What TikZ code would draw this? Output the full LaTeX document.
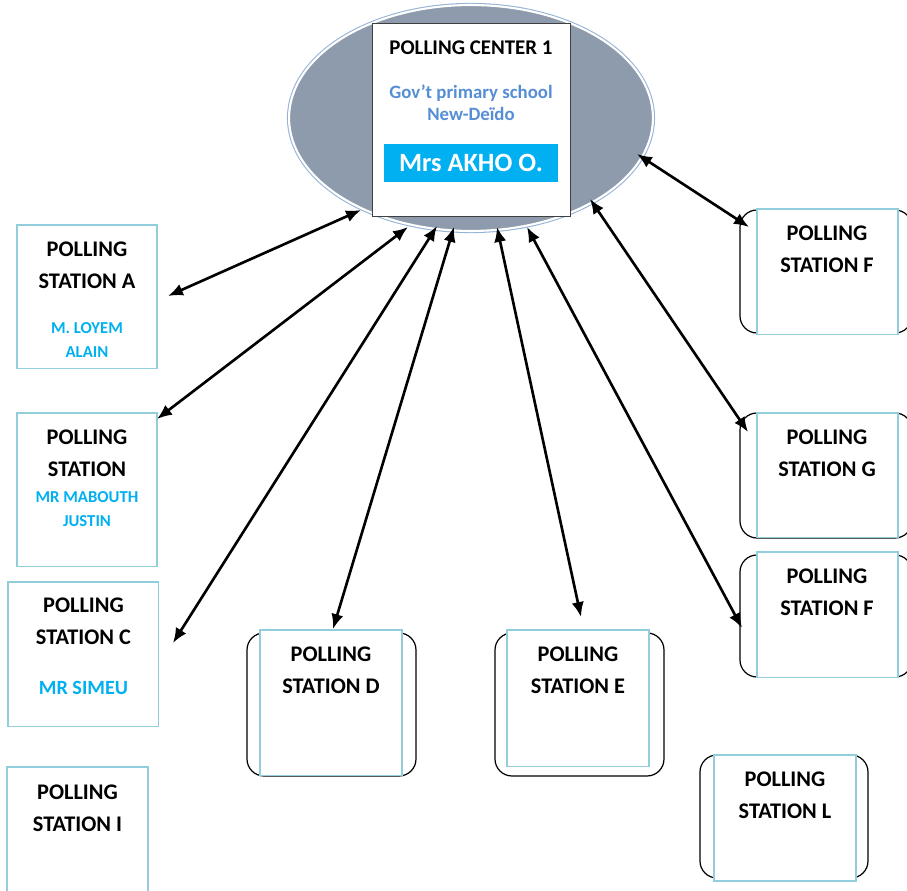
\documentclass[tikz,border=0pt]{standalone}
\usepackage{fontspec}
\setmainfont{Carlito}
\usetikzlibrary{shapes.geometric,arrows.meta}
\definecolor{boxblue}{RGB}{146,205,220}
\definecolor{namecyan}{RGB}{0,176,240}
\definecolor{centerblue}{RGB}{85,142,213}
\definecolor{ellgray}{RGB}{142,155,172}
\definecolor{ellblue}{RGB}{149,179,215}

\begin{document}
\begin{tikzpicture}[x=0.02cm, y=-0.02cm,
    station/.style={rectangle, draw=boxblue, fill=white, line width=0.6pt,
      anchor=north west, inner sep=0pt, outer sep=0pt},
    frame/.style={draw=black, line width=0.7pt, rounded corners=0.34cm},
    ttl/.style={anchor=north, inner sep=0pt, align=center,
      font=\fontsize{12.7}{18.1}\selectfont\bfseries},
    who/.style={anchor=north, inner sep=0pt, align=center, text=namecyan,
      font=\fontsize{9.5}{13.6}\selectfont\bfseries},
    link/.style={{Latex[length=8.5pt,width=7pt]}-{Latex[length=8.5pt,width=7pt]},
      line width=1.5pt}
    ]
\useasboundingbox (0,0) rectangle (907,891);

% polling center
\node[ellipse, fill=ellgray, draw=white, line width=1.2pt,
  preaction={draw=ellblue, line width=2.4pt},
  minimum width=7.28cm, minimum height=4.52cm] (pc) at (471,118) {};
\node[rectangle, draw=black!75, fill=white, line width=0.6pt, anchor=north west,
  minimum width=3.96cm, minimum height=3.86cm] (ctr) at (372,23) {};
\node[anchor=north, inner sep=0pt, font=\fontsize{11.9}{14}\selectfont\bfseries]
  (ctrt) at (471,40) {POLLING CENTER 1};
\node[anchor=north, inner sep=0pt, align=center, text=centerblue,
  font=\fontsize{10.7}{12.6}\selectfont\bfseries]
  (school) at (471,84) {Gov’t primary school\\New-Deïdo};
\node[fill=namecyan, text=white, minimum width=3.48cm, minimum height=0.76cm,
  inner sep=0pt, font=\fontsize{15}{18}\selectfont\bfseries]
  (akho) at (471,163) {Mrs AKHO O.};

% left column
\node[station, minimum width=2.8cm, minimum height=2.88cm] (A) at (17,225) {};
\node[ttl] (At) at (87,241.5) {POLLING\\STATION A};
\node[who] (Aw) at (87,322.6) {M. LOYEM\\ALAIN};

\node[station, minimum width=2.8cm, minimum height=3.08cm] (B) at (17,413) {};
\node[ttl] (Bt) at (87,429.5) {POLLING\\STATION};
\node[who] (Bw) at (87,491.6) {MR MABOUTH\\JUSTIN};

\node[station, minimum width=3.02cm, minimum height=2.9cm] (C) at (8,582) {};
\node[ttl] (Ct) at (83.5,597.5) {POLLING\\STATION C};
\node[who, font=\fontsize{11.5}{14}\selectfont\bfseries] (Cw) at (83.5,681) {MR SIMEU};

\node[station, minimum width=2.82cm, minimum height=2.8cm] (I) at (7,767) {};
\node[ttl] (It) at (77.5,784.5) {POLLING\\STATION I};

% bottom row
\draw[frame] (247,633) rectangle (416,776);
\node[station, minimum width=2.84cm, minimum height=2.92cm] (D) at (260,630) {};
\node[ttl] (Dt) at (331,646.5) {POLLING\\STATION D};

\draw[frame] (495,633) rectangle (664,776);
\node[station, minimum width=2.84cm, minimum height=2.74cm] (E) at (507,630) {};
\node[ttl] (Et) at (578,646.5) {POLLING\\STATION E};

\draw[frame] (700,755) rectangle (868,878);
\node[station, minimum width=2.84cm, minimum height=2.52cm] (L) at (714,755) {};
\node[ttl] (Lt) at (785,771.5) {POLLING\\STATION L};

% right column
\draw[frame] (740,210) rectangle (912,333);
\node[station, minimum width=2.82cm, minimum height=2.52cm] (F) at (757,209) {};
\node[ttl] (Ft) at (827,225.5) {POLLING\\STATION F};

\draw[frame] (740,413) rectangle (912,538);
\node[station, minimum width=2.82cm, minimum height=2.5cm] (G) at (757,413) {};
\node[ttl] (Gt) at (827,429.5) {POLLING\\STATION G};

\draw[frame] (740,555) rectangle (912,677);
\node[station, minimum width=2.82cm, minimum height=2.52cm] (F2) at (757,552) {};
\node[ttl] (F2t) at (827,568.5) {POLLING\\STATION F};

% arrow ends
\coordinate (pA) at (361,210);  \coordinate (sA) at (168,296);
\coordinate (pB) at (408,227);  \coordinate (sB) at (157,419);
\coordinate (pC) at (437,226);  \coordinate (sC) at (173,643);
\coordinate (pD) at (454,227);  \coordinate (sD) at (333,629);
\coordinate (pE) at (497,227);  \coordinate (sE) at (581,617);
\coordinate (pF2) at (527,227); \coordinate (sF2) at (742,628);
\coordinate (pG) at (590,199);  \coordinate (sG) at (748,432);
\coordinate (pF) at (637,154);  \coordinate (sF) at (749,227);

\draw[link] (sA) -- (pA);
\draw[link] (sB) -- (pB);
\draw[link] (sC) -- (pC);
\draw[link] (sD) -- (pD);
\draw[link] (sE) -- (pE);
\draw[link] (sF2) -- (pF2);
\draw[link] (sG) -- (pG);
\draw[link] (sF) -- (pF);
\end{tikzpicture}
\end{document}
